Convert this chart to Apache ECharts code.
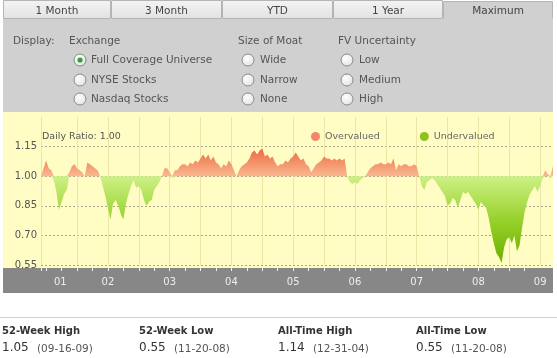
<!DOCTYPE html>
<html><head><meta charset="utf-8">
<script src="https://cdn.jsdelivr.net/npm/echarts@6/dist/echarts.min.js"></script>
<style>html,body{margin:0;padding:0;background:#fff;}#c{width:557px;height:358px;}</style>
</head><body><div id="c"></div>
<script>
// Daily ratio (price / fair value), semi-monthly readings (1st and 16th of each month)
const ratio2001 = [1.00,1.04,1.08,1.04,1.03,0.98,0.92,0.83,0.87,0.91,0.93,1.02,1.05,1.06]; // from Jun 1
const ratio2002 = [1.04,1.03,1.02,1.00,1.07,1.06,1.05,1.04,1.03,1.00,0.95,0.90,0.84,0.78,0.86,0.88,0.85,0.81,0.78,0.86,0.91,0.95,0.98,0.94];
const ratio2003 = [0.95,0.93,0.88,0.85,0.87,0.88,0.93,0.95,0.97,1.00,1.04,1.04,1.02,0.99,1.03,1.03,1.05,1.06,1.06,1.05,1.07,1.06,1.08,1.07];
const ratio2004 = [1.09,1.11,1.09,1.11,1.08,1.10,1.07,1.06,1.04,1.06,1.05,1.08,1.06,1.03,1.00,1.03,1.05,1.06,1.07,1.09,1.12,1.13,1.11,1.13];
const ratio2005 = [1.14,1.10,1.11,1.09,1.10,1.07,1.05,1.06,1.06,1.08,1.07,1.09,1.10,1.12,1.10,1.08,1.09,1.06,1.05,1.02,1.04,1.06,1.07,1.08];
const ratio2006 = [1.10,1.09,1.09,1.08,1.09,1.08,1.09,1.08,1.09,1.00,0.97,0.96,0.97,0.96,0.98,0.99,1.00,1.02,1.04,1.05,1.06,1.06,1.07,1.06];
const ratio2007 = [1.06,1.07,1.06,1.09,1.03,1.06,1.05,1.06,1.06,1.05,1.05,1.06,1.05,1.00,0.95,0.93,0.97,0.98,0.99,0.98,0.96,0.94,0.92,0.90];
const ratio2008 = [0.85,0.86,0.89,0.88,0.84,0.88,0.92,0.91,0.92,0.90,0.88,0.86,0.83,0.87,0.85,0.84,0.79,0.72,0.66,0.61,0.59,0.56,0.64,0.68];
const ratio2009 = [0.69,0.66,0.70,0.62,0.65,0.74,0.82,0.87,0.91,0.93,0.95,0.92,0.95,0.99,1.03,1.01,0.99,1.05]; // to Sep 16
const firstSlot = 10; // 2001 series starts at Jun 1 (slot 10 of 24)

const yTicks = [0.55, 0.70, 0.85, 1.00, 1.15];
const yearLabelPos = [2001.73,2002.5,2003.5,2004.5,2005.5,2006.5,2007.5,2008.5,2009.5];
const quarterTicks = [2001.4167,2001.5,2001.75,2002,2002.25,2002.5,2002.75,2003,2003.25,2003.5,2003.75,2004,2004.25,2004.5,2004.75,2005,2005.25,2005.5,2005.75,2006,2006.25,2006.5,2006.75,2007,2007.25,2007.5,2007.75,2008,2008.25,2008.5,2008.75,2009,2009.25];
const halfYearLines = [2001.4167,2002,2002.5,2003,2003.5,2004,2004.5,2005,2005.5,2006,2006.5,2007,2007.5,2008,2008.5,2009,2009.5];

const tabs = ['1 Month','3 Month','YTD','1 Year','Maximum'];
const exchangeOpts = ['Full Coverage Universe','NYSE Stocks','Nasdaq Stocks'];
const moatOpts = ['Wide','Narrow','None'];
const fvOpts = ['Low','Medium','High'];
const statTitles = ['52-Week High','52-Week Low','All-Time High','All-Time Low'];
const statValues = ['1.05','0.55','1.14','0.55'];
const statDates = ['(09-16-09)','(11-20-08)','(12-31-04)','(11-20-08)'];

const years = [[2001,ratio2001],[2002,ratio2002],[2003,ratio2003],[2004,ratio2004],[2005,ratio2005],[2006,ratio2006],[2007,ratio2007],[2008,ratio2008],[2009,ratio2009]];
const pts = [];
years.forEach(([y, arr]) => {
  const off = y === 2001 ? firstSlot : 0;
  arr.forEach((v, i) => pts.push([y + (off + i) / 24, v]));
});
const overData = pts.map(p => [p[0], Math.max(p[1], 1)]);
const underData = pts.map(p => [p[0], Math.min(p[1], 1)]);
const xMin = 2001 + firstSlot / 24, xMax = 2009 + (ratio2009.length - 1) / 24;

const F = 'DejaVu Sans';
const g = [];
// backgrounds
const tabX = [3, 111, 222, 333, 443, 553];
tabs.forEach((t, i) => {
  const active = i === 4;
  g.push({type:'rect', z:-20, silent:true, shape:{x:tabX[i]+0.5, y:active?1.5:0.5, width:tabX[i+1]-tabX[i]-1, height:active?19:18},
    style:{fill: active ? '#d0d0d0' : new echarts.graphic.LinearGradient(0,0,0,1,[{offset:0,color:'#f4f4f4'},{offset:1,color:'#e2e2e2'}]), stroke:'#b4b4b4', lineWidth:1}});
  g.push({type:'text', z:5, silent:true, style:{text:t, x:(tabX[i]+tabX[i+1])/2, y:11, align:'center', verticalAlign:'middle', font:'10.5px "'+F+'"', fill: '#444'}});
});
g.push({type:'rect', z:-19, silent:true, shape:{x:3, y:19, width:550, height:93}, style:{fill:'#d0d0d0'}});
g.push({type:'rect', z:-18, silent:true, shape:{x:443.5, y:17, width:109, height:4}, style:{fill:'#d0d0d0'}});
g.push({type:'rect', z:-19, silent:true, shape:{x:3, y:112, width:550, height:156}, style:{fill:'#fffcc4'}});
g.push({type:'rect', z:-19, silent:true, shape:{x:3, y:268, width:550, height:25}, style:{fill:'#878787'}});
g.push({type:'rect', z:-19, silent:true, shape:{x:0, y:317, width:557, height:1}, style:{fill:'#cfcfcf'}});
// display panel
const txt = (s, x, y, extra) => g.push(Object.assign({type:'text', z:5, silent:true, style:{text:s, x:x, y:y, verticalAlign:'middle', font:'10.5px "'+F+'"', fill:'#555'}}, extra||{}));
txt('Display:', 13, 41);
txt('Exchange', 69, 41);
txt('Size of Moat', 238, 41);
txt('FV Uncertainty', 338, 41);
const rowsY = [60, 80, 99];
const radio = (cx, cy, sel) => {
  g.push({type:'circle', z:4, silent:true, shape:{cx:cx, cy:cy, r:6},
    style:{fill:new echarts.graphic.RadialGradient(0.4,0.35,0.8,[{offset:0,color:'#ffffff'},{offset:1,color:'#dcdcdc'}]), stroke: sel ? '#6c9a6c' : '#8c8c8c', lineWidth:1}});
  if (sel) g.push({type:'circle', z:5, silent:true, shape:{cx:cx, cy:cy, r:2.6}, style:{fill:'#3f9a3f'}});
};
exchangeOpts.forEach((s, i) => { radio(80, rowsY[i], i === 0); txt(s, 91, rowsY[i]); });
moatOpts.forEach((s, i) => { radio(248, rowsY[i], false); txt(s, 260, rowsY[i]); });
fvOpts.forEach((s, i) => { radio(347, rowsY[i], false); txt(s, 359, rowsY[i]); });
// stats
const statX = [2, 139, 278, 416];
statTitles.forEach((s, i) => {
  g.push({type:'text', z:5, silent:true, style:{text:s, x:statX[i], y:331, verticalAlign:'middle', font:'bold 10px "'+F+'"', fill:'#333'}});
  g.push({type:'text', z:5, silent:true, style:{text:statValues[i], x:statX[i], y:348, verticalAlign:'middle', font:'12px "'+F+'"', fill:'#333'}});
  g.push({type:'text', z:5, silent:true, style:{text:statDates[i], x:statX[i]+35, y:349, verticalAlign:'middle', font:'10.5px "'+F+'"', fill:'#555'}});
});

const chart = echarts.init(document.getElementById('c'), null, {renderer:'canvas'});
chart.setOption({
  animation:false,
  backgroundColor:'#ffffff',
  title:{text:'Daily Ratio: 1.00', left:42, top:132, padding:0, textStyle:{fontFamily:F, fontSize:9.5, fontWeight:'normal', color:'#555'}},
  legend:{data:['Overvalued','Undervalued'], left:311, top:131.5, padding:0, icon:'circle', itemWidth:9, itemHeight:9, itemGap:40, selectedMode:false,
    textStyle:{fontFamily:F, fontSize:9.5, color:'#666', padding:[0,0,0,0]}},
  grid:{left:41, right:4, top:117, bottom:93},
  xAxis:[
    {type:'value', min:xMin, max:xMax, offset:3, axisLine:{show:false},
     axisTick:{show:true, customValues:quarterTicks, length:3, lineStyle:{color:'#f0f0f0', width:1}},
     axisLabel:{show:true, customValues:yearLabelPos, margin:9, fontFamily:F, fontSize:10, color:'#eeeeee',
       formatter:v => String(Math.floor(v + 1e-6) % 100).padStart(2,'0')},
     splitLine:{show:false}},
    {type:'value', min:xMin, max:xMax, axisLine:{show:false}, axisLabel:{show:false},
     axisTick:{show:false, customValues:halfYearLines},
     splitLine:{show:true, lineStyle:{color:'#ebe6a6', width:1}}}
  ],
  yAxis:{type:'value', min:0.55, max:1.30, axisLine:{show:false},
    axisTick:{show:false, customValues:yTicks},
    axisLabel:{customValues:yTicks, margin:4, fontFamily:F, fontSize:10, color:'#555', formatter:v => v.toFixed(2)},
    splitLine:{show:true, lineStyle:{color:'#a8a48c', type:[2,2], width:1}}},
  series:[
    {name:'Overvalued', type:'line', data:overData, showSymbol:false, symbol:'circle', itemStyle:{color:'#f4876a'},
     lineStyle:{width:0}, areaStyle:{origin:1, opacity:1, color:new echarts.graphic.LinearGradient(0,0,0,1,[{offset:0,color:'#ee6a42'},{offset:1,color:'#f9b890'}])}, z:3},
    {name:'Undervalued', type:'line', data:underData, showSymbol:false, symbol:'circle', itemStyle:{color:'#8cc21c'},
     lineStyle:{width:0}, areaStyle:{origin:1, opacity:1, color:new echarts.graphic.LinearGradient(0,0,0,1,[{offset:0,color:'#cdf086'},{offset:0.5,color:'#98d22c'},{offset:1,color:'#6cae00'}])}, z:3}
  ],
  graphic:g
});
</script></body></html>
